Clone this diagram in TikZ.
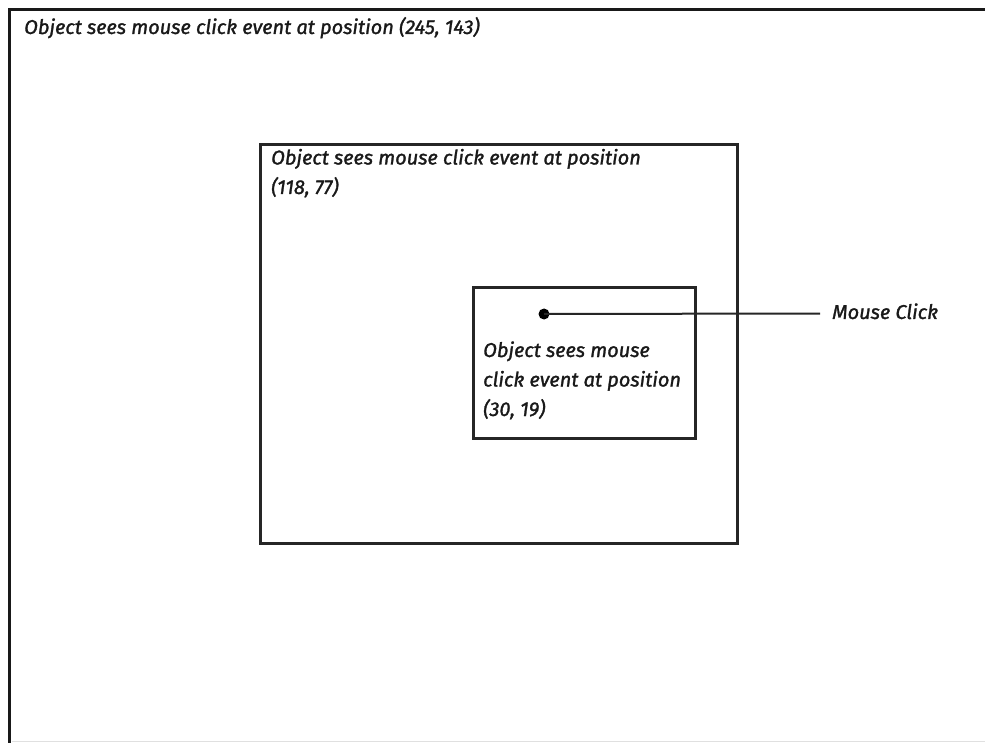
\documentclass[tikz,border=0pt]{standalone}
\usepackage{fontspec}
\setmainfont{Fira Sans}[FakeStretch=1.0,FakeBold=1.4]
\begin{document}
\begin{tikzpicture}[x=1pt,y=-1pt,
  frame/.style={line width=3pt,draw=black!90},
  boxshape/.style={draw=black!85,line width=2.8pt,inner sep=0pt,anchor=north west},
  lbl/.style={font=\fontsize{20}{29.5}\selectfont\itshape,inner sep=0pt,align=left,anchor=base west,text=black!90}]
\useasboundingbox (0,0) rectangle (985,743);
\fill[white] (0,0) rectangle (985,743);
% outer frame (left and top sides)
\coordinate (oBL) at (9.5,743);
\coordinate (oTL) at (9.5,9.5);
\coordinate (oTR) at (985,9.5);
\draw[frame] (oBL) -- (oTL) -- (oTR);
\coordinate (gL) at (12,741.5);
\coordinate (gR) at (985,741.5);
\draw[black!12,line width=1pt] (gL) -- (gR);
% middle box
\node[boxshape,minimum width=477pt,minimum height=399pt] (mid) at (259,143) {};
% inner box
\node[boxshape,minimum width=222pt,minimum height=151pt] (inn) at (472,286) {};
% labels (anchored at the baseline of the last line)
\node[lbl] (tOuter) at (24,34) {Object sees mouse click event at position (245, 143)};
\node[lbl] (tMid) at (271,194) {Object sees mouse click event at position\\(118, 77)};
\node[lbl] (tInn) at (483,416) {Object sees mouse\\click event at position\\(30, 19)};
% mouse click
\node[circle,fill=black,inner sep=0pt,minimum size=11pt] (dot) at (544,314) {};
\node[lbl] (mc) at (832,319) {Mouse Click};
\coordinate (lineEnd) at (820,313.5);
\draw[black!85,line width=2pt] (dot.center) -- (lineEnd);
\end{tikzpicture}
\end{document}
